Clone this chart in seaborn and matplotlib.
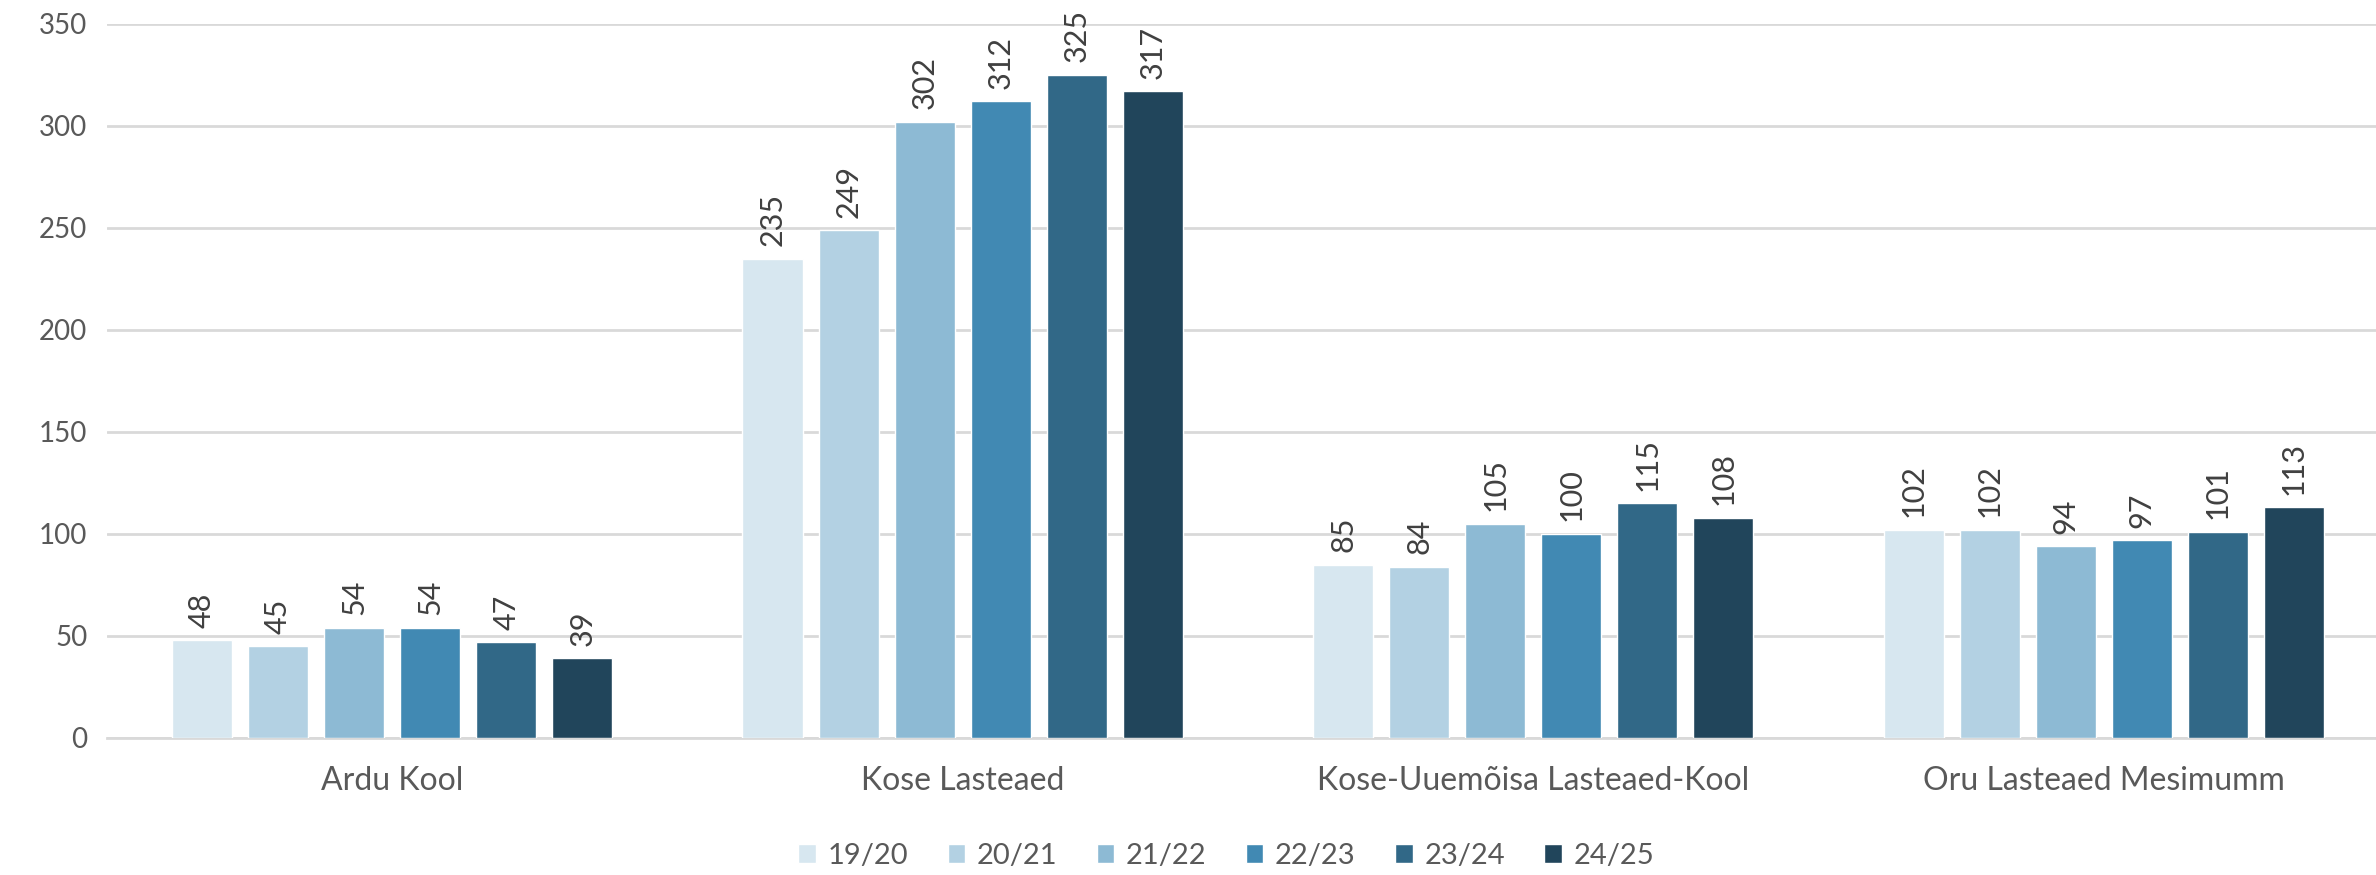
import pandas as pd
import matplotlib.pyplot as plt
import seaborn as sns

schools = ['Ardu Kool', 'Kose Lasteaed', 'Kose-Uuemõisa Lasteaed-Kool', 'Oru Lasteaed Mesimumm']
years = ['19/20', '20/21', '21/22', '22/23', '23/24', '24/25']
ardu = [48, 45, 54, 54, 47, 39]
kose = [235, 249, 302, 312, 325, 317]
kose_uuemoisa = [85, 84, 105, 100, 115, 108]
oru = [102, 102, 94, 97, 101, 113]

colors = ['#D7E7F0', '#B3D1E3', '#8DBAD4', '#4189B3', '#316887', '#21455B']

rows = []
for school, vals in zip(schools, [ardu, kose, kose_uuemoisa, oru]):
    for y, v in zip(years, vals):
        rows.append({'school': school, 'year': y, 'count': v})
df = pd.DataFrame(rows)

sns.set_style('white')
plt.rcParams['font.family'] = ['Lato', 'DejaVu Sans']

fig = plt.figure(figsize=(23.76, 8.75), dpi=100)
# the plot area runs a little past the right edge, as in the original
ax = fig.add_axes([0.045, 0.1566, 0.9605, 0.816])

sns.barplot(data=df, x='school', y='count', hue='year', palette=colors,
            width=0.80, gap=0.21, saturation=1, ax=ax, zorder=3)

for cont in ax.containers:
    ax.bar_label(cont, rotation=90, padding=9, fontsize=22, color='#404040')

ax.set_ylim(0, 350)
ax.set_yticks(range(0, 351, 50))
ax.yaxis.grid(True, color='#D9D9D9', linewidth=2, zorder=0)
for s in ['left', 'right', 'top']:
    ax.spines[s].set_visible(False)
ax.spines['bottom'].set_color('#D9D9D9')
ax.spines['bottom'].set_linewidth(2)
ax.tick_params(axis='y', length=0, labelsize=20, colors='#595959', pad=14)
ax.tick_params(axis='x', length=0, labelsize=23, colors='#595959', pad=20)
ax.set_xlabel('')
ax.set_ylabel('')

ax.legend(loc='center', bbox_to_anchor=(0.4905, -0.165), ncol=6, frameon=False,
          fontsize=21, labelcolor='#595959', handlelength=0.6, handleheight=0.6,
          handletextpad=0.4, columnspacing=1.35, borderpad=0.2)

fig.savefig('out.png', dpi=100)
